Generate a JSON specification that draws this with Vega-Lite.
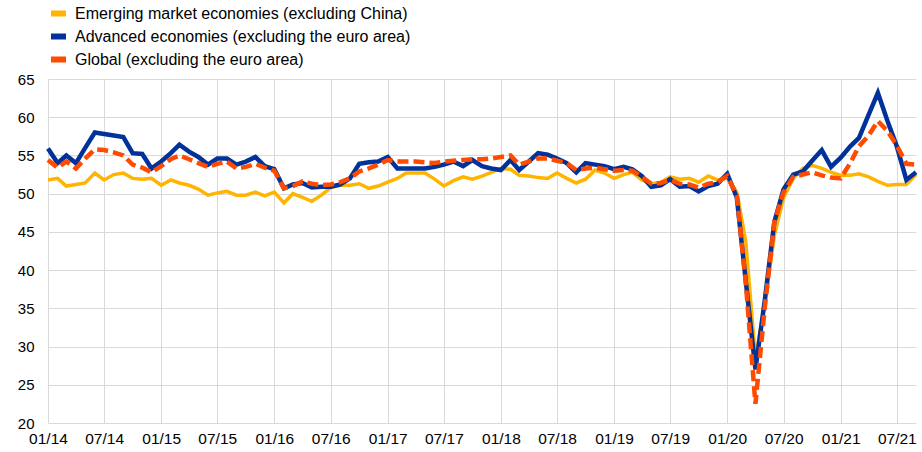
{
  "$schema": "https://vega.github.io/schema/vega-lite/v6.json",
  "width": 868,
  "height": 344,
  "autosize": {"type": "none"},
  "padding": {"left": 48, "top": 79, "right": 6, "bottom": 29},
  "background": "white",
  "config": {
    "view": {"stroke": null},
    "font": "Liberation Sans",
    "axisY": {
      "title": null,
      "grid": true,
      "gridColor": "#d9d9d9",
      "gridWidth": 1,
      "domain": false,
      "ticks": false,
      "labelFontSize": 15,
      "labelColor": "#000000",
      "labelPadding": 14,
      "labelOverlap": false
    }
  },
  "data": {
    "values": [
      {"date": "2014/01/01", "em": 51.8, "adv": 55.9, "glob": 54.4},
      {"date": "2014/02/01", "em": 52.0, "adv": 54.0, "glob": 53.4},
      {"date": "2014/03/01", "em": 51.0, "adv": 55.0, "glob": 54.2},
      {"date": "2014/04/01", "em": 51.2, "adv": 54.0, "glob": 53.3},
      {"date": "2014/05/01", "em": 51.4, "adv": 56.0, "glob": 54.6},
      {"date": "2014/06/01", "em": 52.7, "adv": 58.0, "glob": 55.8},
      {"date": "2014/07/01", "em": 51.8, "adv": 57.8, "glob": 55.7},
      {"date": "2014/08/01", "em": 52.5, "adv": 57.6, "glob": 55.4},
      {"date": "2014/09/01", "em": 52.7, "adv": 57.4, "glob": 55.0},
      {"date": "2014/10/01", "em": 52.0, "adv": 55.3, "glob": 53.8},
      {"date": "2014/11/01", "em": 51.9, "adv": 55.2, "glob": 53.4},
      {"date": "2014/12/01", "em": 52.0, "adv": 53.3, "glob": 52.8},
      {"date": "2015/01/01", "em": 51.1, "adv": 54.2, "glob": 53.6},
      {"date": "2015/02/01", "em": 51.8, "adv": 55.3, "glob": 54.5},
      {"date": "2015/03/01", "em": 51.4, "adv": 56.4, "glob": 55.0},
      {"date": "2015/04/01", "em": 51.1, "adv": 55.5, "glob": 54.5},
      {"date": "2015/05/01", "em": 50.6, "adv": 54.8, "glob": 54.0},
      {"date": "2015/06/01", "em": 49.8, "adv": 53.8, "glob": 53.5},
      {"date": "2015/07/01", "em": 50.1, "adv": 54.6, "glob": 53.9},
      {"date": "2015/08/01", "em": 50.3, "adv": 54.6, "glob": 54.2},
      {"date": "2015/09/01", "em": 49.8, "adv": 53.8, "glob": 53.3},
      {"date": "2015/10/01", "em": 49.8, "adv": 54.2, "glob": 53.5},
      {"date": "2015/11/01", "em": 50.2, "adv": 54.8, "glob": 53.9},
      {"date": "2015/12/01", "em": 49.7, "adv": 53.6, "glob": 53.4},
      {"date": "2016/01/01", "em": 50.2, "adv": 53.2, "glob": 53.0},
      {"date": "2016/02/01", "em": 48.8, "adv": 50.7, "glob": 50.7},
      {"date": "2016/03/01", "em": 50.0, "adv": 51.2, "glob": 51.0},
      {"date": "2016/04/01", "em": 49.5, "adv": 51.4, "glob": 51.6},
      {"date": "2016/05/01", "em": 49.0, "adv": 50.8, "glob": 51.3},
      {"date": "2016/06/01", "em": 49.8, "adv": 50.9, "glob": 51.1},
      {"date": "2016/07/01", "em": 50.8, "adv": 50.9, "glob": 51.2},
      {"date": "2016/08/01", "em": 51.1, "adv": 51.2, "glob": 51.5},
      {"date": "2016/09/01", "em": 51.1, "adv": 52.0, "glob": 52.0},
      {"date": "2016/10/01", "em": 51.3, "adv": 53.9, "glob": 52.9},
      {"date": "2016/11/01", "em": 50.7, "adv": 54.1, "glob": 53.3},
      {"date": "2016/12/01", "em": 51.0, "adv": 54.2, "glob": 53.8},
      {"date": "2017/01/01", "em": 51.5, "adv": 54.8, "glob": 54.4},
      {"date": "2017/02/01", "em": 52.0, "adv": 53.3, "glob": 54.2},
      {"date": "2017/03/01", "em": 52.7, "adv": 53.3, "glob": 54.2},
      {"date": "2017/04/01", "em": 52.7, "adv": 53.3, "glob": 54.2},
      {"date": "2017/05/01", "em": 52.7, "adv": 53.3, "glob": 54.1},
      {"date": "2017/06/01", "em": 51.9, "adv": 53.5, "glob": 54.0},
      {"date": "2017/07/01", "em": 51.0, "adv": 53.8, "glob": 54.2},
      {"date": "2017/08/01", "em": 51.7, "adv": 54.2, "glob": 54.3},
      {"date": "2017/09/01", "em": 52.2, "adv": 53.6, "glob": 54.4},
      {"date": "2017/10/01", "em": 51.9, "adv": 54.4, "glob": 54.5},
      {"date": "2017/11/01", "em": 52.3, "adv": 53.6, "glob": 54.5},
      {"date": "2017/12/01", "em": 52.8, "adv": 53.3, "glob": 54.6},
      {"date": "2018/01/01", "em": 53.3, "adv": 53.1, "glob": 54.8},
      {"date": "2018/02/01", "em": 53.2, "adv": 54.4, "glob": 55.0},
      {"date": "2018/03/01", "em": 52.4, "adv": 53.1, "glob": 53.8},
      {"date": "2018/04/01", "em": 52.3, "adv": 54.2, "glob": 54.2},
      {"date": "2018/05/01", "em": 52.1, "adv": 55.3, "glob": 54.6},
      {"date": "2018/06/01", "em": 52.0, "adv": 55.1, "glob": 54.6},
      {"date": "2018/07/01", "em": 52.7, "adv": 54.6, "glob": 54.3},
      {"date": "2018/08/01", "em": 52.0, "adv": 54.0, "glob": 54.0},
      {"date": "2018/09/01", "em": 51.4, "adv": 52.8, "glob": 53.1},
      {"date": "2018/10/01", "em": 51.9, "adv": 54.0, "glob": 53.3},
      {"date": "2018/11/01", "em": 53.1, "adv": 53.8, "glob": 53.4},
      {"date": "2018/12/01", "em": 52.7, "adv": 53.6, "glob": 53.2},
      {"date": "2019/01/01", "em": 52.0, "adv": 53.2, "glob": 53.0},
      {"date": "2019/02/01", "em": 52.5, "adv": 53.5, "glob": 53.1},
      {"date": "2019/03/01", "em": 52.8, "adv": 53.2, "glob": 53.0},
      {"date": "2019/04/01", "em": 51.8, "adv": 52.3, "glob": 52.2},
      {"date": "2019/05/01", "em": 51.3, "adv": 50.9, "glob": 51.3},
      {"date": "2019/06/01", "em": 51.5, "adv": 51.1, "glob": 51.4},
      {"date": "2019/07/01", "em": 52.2, "adv": 51.9, "glob": 51.8},
      {"date": "2019/08/01", "em": 51.9, "adv": 50.9, "glob": 51.3},
      {"date": "2019/09/01", "em": 52.0, "adv": 51.0, "glob": 51.2},
      {"date": "2019/10/01", "em": 51.5, "adv": 50.3, "glob": 50.8},
      {"date": "2019/11/01", "em": 52.3, "adv": 51.0, "glob": 51.3},
      {"date": "2019/12/01", "em": 51.8, "adv": 51.3, "glob": 51.5},
      {"date": "2020/01/01", "em": 52.1, "adv": 52.6, "glob": 52.3},
      {"date": "2020/02/01", "em": 50.2, "adv": 49.5, "glob": 49.8},
      {"date": "2020/03/01", "em": 43.7, "adv": 38.5, "glob": 38.3},
      {"date": "2020/04/01", "em": 28.5, "adv": 27.0, "glob": 22.5},
      {"date": "2020/05/01", "em": 35.5, "adv": 36.0, "glob": 35.0},
      {"date": "2020/06/01", "em": 44.5, "adv": 46.3, "glob": 46.3},
      {"date": "2020/07/01", "em": 49.5, "adv": 50.6, "glob": 50.2},
      {"date": "2020/08/01", "em": 52.0, "adv": 52.5, "glob": 52.2},
      {"date": "2020/09/01", "em": 53.3, "adv": 52.9, "glob": 52.5},
      {"date": "2020/10/01", "em": 53.7, "adv": 54.3, "glob": 52.8},
      {"date": "2020/11/01", "em": 53.3, "adv": 55.7, "glob": 52.4},
      {"date": "2020/12/01", "em": 52.8, "adv": 53.5, "glob": 52.1},
      {"date": "2021/01/01", "em": 52.4, "adv": 54.7, "glob": 52.0},
      {"date": "2021/02/01", "em": 52.4, "adv": 56.2, "glob": 54.0},
      {"date": "2021/03/01", "em": 52.6, "adv": 57.3, "glob": 56.2},
      {"date": "2021/04/01", "em": 52.2, "adv": 60.3, "glob": 57.6},
      {"date": "2021/05/01", "em": 51.6, "adv": 63.2, "glob": 59.5},
      {"date": "2021/06/01", "em": 51.1, "adv": 59.5, "glob": 58.2},
      {"date": "2021/07/01", "em": 51.2, "adv": 56.2, "glob": 56.3},
      {"date": "2021/08/01", "em": 51.2, "adv": 51.8, "glob": 53.9},
      {"date": "2021/09/01", "em": 52.5, "adv": 52.8, "glob": 53.8}
    ]
  },
  "encoding": {
    "x": {
      "field": "date",
      "type": "temporal",
      "scale": {"domain": [{"year": 2014, "month": 1, "date": 1}, {"year": 2021, "month": 9, "date": 1}]},
      "axis": {
        "title": null,
        "format": "%m/%y",
        "tickCount": {"interval": "month", "step": 6},
        "grid": true,
        "gridColor": "#d9d9d9",
        "gridWidth": 1,
        "domain": false,
        "ticks": false,
        "labelFontSize": 15.5,
        "labelColor": "#000000",
        "labelPadding": 8,
        "labelFlush": false,
        "labelOverlap": false
      }
    }
  },
  "layer": [
    {
      "mark": {"type": "line", "strokeWidth": 3.5},
      "encoding": {
        "y": {
          "field": "em",
          "type": "quantitative",
          "scale": {"domain": [20, 65], "nice": false, "zero": false},
          "axis": {"values": [20, 25, 30, 35, 40, 45, 50, 55, 60, 65]}
        },
        "color": {
          "datum": "Emerging market economies (excluding China)",
          "type": "nominal",
          "scale": {
            "domain": ["Emerging market economies (excluding China)", "Advanced economies (excluding the euro area)", "Global (excluding the euro area)"],
            "range": ["#FFB400", "#003299", "#FF4B00"]
          },
          "legend": {
            "title": null,
            "orient": "none",
            "legendX": 0,
            "legendY": -76,
            "direction": "vertical",
            "symbolType": "stroke",
            "symbolSize": 225,
            "symbolStrokeWidth": 6,
            "symbolDash": [1, 0],
            "labelFontSize": 16,
            "labelColor": "#000000",
            "labelOffset": 6,
            "labelLimit": 0,
            "rowPadding": -5.5,
            "padding": 0
          }
        }
      }
    },
    {
      "mark": {"type": "line", "strokeWidth": 4.5},
      "encoding": {
        "y": {
          "field": "adv",
          "type": "quantitative",
          "scale": {"domain": [20, 65], "nice": false, "zero": false},
          "axis": {"values": [20, 25, 30, 35, 40, 45, 50, 55, 60, 65]}
        },
        "color": {"datum": "Advanced economies (excluding the euro area)", "type": "nominal"}
      }
    },
    {
      "mark": {"type": "line", "strokeWidth": 4.5, "strokeDash": [11, 5]},
      "encoding": {
        "y": {
          "field": "glob",
          "type": "quantitative",
          "scale": {"domain": [20, 65], "nice": false, "zero": false},
          "axis": {"values": [20, 25, 30, 35, 40, 45, 50, 55, 60, 65]}
        },
        "color": {"datum": "Global (excluding the euro area)", "type": "nominal"}
      }
    }
  ]
}
